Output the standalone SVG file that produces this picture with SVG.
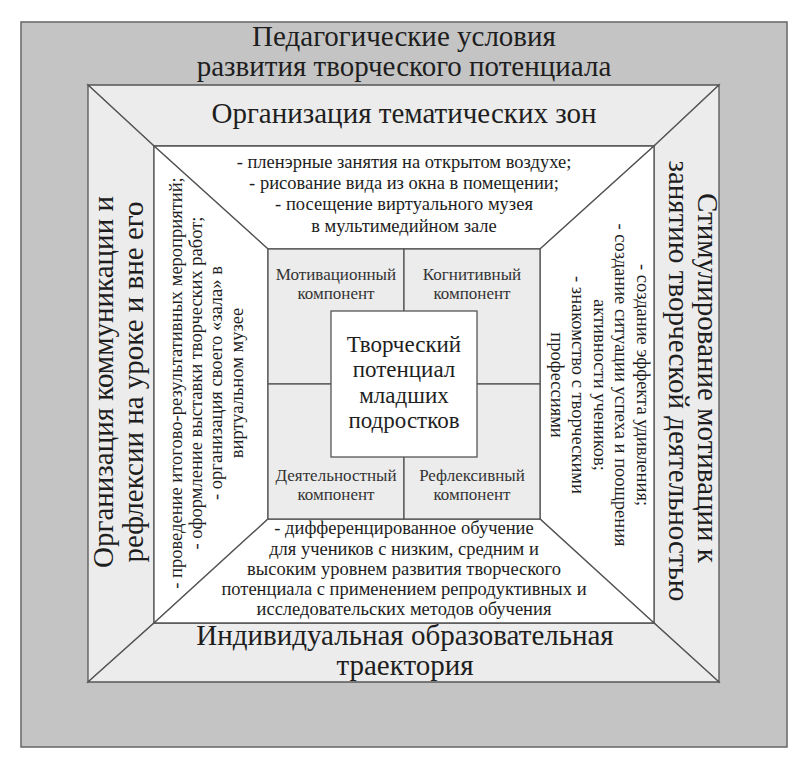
<svg xmlns="http://www.w3.org/2000/svg" width="796" height="761" viewBox="0 0 796 761">
<rect width="796" height="761" fill="#ffffff"/>
<g id="outer">
<rect x="21" y="22" width="766" height="725" fill="#c4c4c4" stroke="#666666" stroke-width="1.5"/>
<text font-family="Liberation Serif, Tinos, Times New Roman, serif" font-size="29" text-anchor="middle" fill="#1e1e1e" x="404" y="46">Педагогические условия</text>
<text font-family="Liberation Serif, Tinos, Times New Roman, serif" font-size="29" text-anchor="middle" fill="#1e1e1e" x="404" y="76">развития творческого потенциала</text>
</g>
<g id="band-top">
<polygon points="88,85 719,85 654,146 154,146" fill="#ececec" stroke="#555555" stroke-width="1.3"/>
<text font-family="Liberation Serif, Tinos, Times New Roman, serif" font-size="29" text-anchor="middle" fill="#1e1e1e" x="404" y="123">Организация тематических зон</text>
</g>
<g id="band-left">
<polygon points="88,85 154,146 154,623 88,682" fill="#ececec" stroke="#555555" stroke-width="1.3"/>
<text font-family="Liberation Serif, Tinos, Times New Roman, serif" font-size="29" text-anchor="middle" fill="#1e1e1e" transform="translate(113,382) rotate(-90)">Организация коммуникации и</text>
<text font-family="Liberation Serif, Tinos, Times New Roman, serif" font-size="29" text-anchor="middle" fill="#1e1e1e" transform="translate(143,382) rotate(-90)">рефлексии на уроке и вне его</text>
</g>
<g id="band-right">
<polygon points="719,85 719,682 654,623 654,146" fill="#ececec" stroke="#555555" stroke-width="1.3"/>
<text font-family="Liberation Serif, Tinos, Times New Roman, serif" font-size="29" text-anchor="middle" fill="#1e1e1e" transform="translate(698,378) rotate(90)">Стимулирование мотивации к</text>
<text font-family="Liberation Serif, Tinos, Times New Roman, serif" font-size="29" text-anchor="middle" fill="#1e1e1e" transform="translate(669,381) rotate(90)">занятию творческой деятельностью</text>
</g>
<g id="band-bottom">
<polygon points="88,682 154,623 654,623 719,682" fill="#ececec" stroke="#555555" stroke-width="1.3"/>
<text font-family="Liberation Serif, Tinos, Times New Roman, serif" font-size="29" text-anchor="middle" fill="#1e1e1e" x="405" y="645">Индивидуальная образовательная</text>
<text font-family="Liberation Serif, Tinos, Times New Roman, serif" font-size="29" text-anchor="middle" fill="#1e1e1e" x="405" y="675">траектория</text>
</g>
<g id="zone-top">
<polygon points="154,146 654,146 540,249 268,249" fill="#ffffff" stroke="#555555" stroke-width="1.3"/>
<text font-family="Liberation Serif, Tinos, Times New Roman, serif" font-size="18.5" text-anchor="middle" fill="#1e1e1e" x="404" y="168">- пленэрные занятия на открытом воздухе;</text>
<text font-family="Liberation Serif, Tinos, Times New Roman, serif" font-size="18.5" text-anchor="middle" fill="#1e1e1e" x="404" y="189">- рисование вида из окна в помещении;</text>
<text font-family="Liberation Serif, Tinos, Times New Roman, serif" font-size="18.5" text-anchor="middle" fill="#1e1e1e" x="404" y="210">- посещение виртуального музея</text>
<text font-family="Liberation Serif, Tinos, Times New Roman, serif" font-size="18.5" text-anchor="middle" fill="#1e1e1e" x="404" y="232">в мультимедийном зале</text>
</g>
<g id="zone-left">
<polygon points="154,146 268,249 268,519 154,623" fill="#ffffff" stroke="#555555" stroke-width="1.3"/>
<text font-family="Liberation Serif, Tinos, Times New Roman, serif" font-size="18.5" text-anchor="middle" fill="#1e1e1e" transform="translate(182,383) rotate(-90)">- проведение итогово-результативных мероприятий;</text>
<text font-family="Liberation Serif, Tinos, Times New Roman, serif" font-size="18.5" text-anchor="middle" fill="#1e1e1e" transform="translate(202,383) rotate(-90)">- оформление выставки творческих работ;</text>
<text font-family="Liberation Serif, Tinos, Times New Roman, serif" font-size="18.5" text-anchor="middle" fill="#1e1e1e" transform="translate(222,383) rotate(-90)">- организация своего «зала» в</text>
<text font-family="Liberation Serif, Tinos, Times New Roman, serif" font-size="18.5" text-anchor="middle" fill="#1e1e1e" transform="translate(243,383) rotate(-90)">виртуальном музее</text>
</g>
<g id="zone-right">
<polygon points="654,146 654,623 540,519 540,249" fill="#ffffff" stroke="#555555" stroke-width="1.3"/>
<text font-family="Liberation Serif, Tinos, Times New Roman, serif" font-size="18.5" text-anchor="middle" fill="#1e1e1e" transform="translate(637,385) rotate(90)">- создание эффекта удивления;</text>
<text font-family="Liberation Serif, Tinos, Times New Roman, serif" font-size="18.5" text-anchor="middle" fill="#1e1e1e" transform="translate(615,385) rotate(90)">- создание ситуации успеха и поощрения</text>
<text font-family="Liberation Serif, Tinos, Times New Roman, serif" font-size="18.5" text-anchor="middle" fill="#1e1e1e" transform="translate(594,385) rotate(90)">активности учеников;</text>
<text font-family="Liberation Serif, Tinos, Times New Roman, serif" font-size="18.5" text-anchor="middle" fill="#1e1e1e" transform="translate(572,385) rotate(90)">- знакомство с творческими</text>
<text font-family="Liberation Serif, Tinos, Times New Roman, serif" font-size="18.5" text-anchor="middle" fill="#1e1e1e" transform="translate(551,385) rotate(90)">профессиями</text>
</g>
<g id="zone-bottom">
<polygon points="154,623 268,519 540,519 654,623" fill="#ffffff" stroke="#555555" stroke-width="1.3"/>
<text font-family="Liberation Serif, Tinos, Times New Roman, serif" font-size="18.5" text-anchor="middle" fill="#1e1e1e" x="404" y="534">- дифференцированное обучение</text>
<text font-family="Liberation Serif, Tinos, Times New Roman, serif" font-size="18.5" text-anchor="middle" fill="#1e1e1e" x="404" y="555">для учеников с низким, средним и</text>
<text font-family="Liberation Serif, Tinos, Times New Roman, serif" font-size="18.5" text-anchor="middle" fill="#1e1e1e" x="404" y="575">высоким уровнем развития творческого</text>
<text font-family="Liberation Serif, Tinos, Times New Roman, serif" font-size="18.5" text-anchor="middle" fill="#1e1e1e" x="404" y="595">потенциала с применением репродуктивных и</text>
<text font-family="Liberation Serif, Tinos, Times New Roman, serif" font-size="18.5" text-anchor="middle" fill="#1e1e1e" x="404" y="615">исследовательских методов обучения</text>
</g>
<g id="comp-motivational">
<rect x="268" y="249" width="136" height="135" fill="#ececec" stroke="#555555" stroke-width="1.3"/>
<text font-family="Liberation Serif, Tinos, Times New Roman, serif" font-size="17" text-anchor="middle" fill="#333333" x="336" y="280">Мотивационный</text>
<text font-family="Liberation Serif, Tinos, Times New Roman, serif" font-size="17" text-anchor="middle" fill="#333333" x="336" y="299">компонент</text>
</g>
<g id="comp-cognitive">
<rect x="404" y="249" width="136" height="135" fill="#ececec" stroke="#555555" stroke-width="1.3"/>
<text font-family="Liberation Serif, Tinos, Times New Roman, serif" font-size="17" text-anchor="middle" fill="#333333" x="472" y="280">Когнитивный</text>
<text font-family="Liberation Serif, Tinos, Times New Roman, serif" font-size="17" text-anchor="middle" fill="#333333" x="472" y="299">компонент</text>
</g>
<g id="comp-activity">
<rect x="268" y="384" width="136" height="135" fill="#ececec" stroke="#555555" stroke-width="1.3"/>
<text font-family="Liberation Serif, Tinos, Times New Roman, serif" font-size="17" text-anchor="middle" fill="#333333" x="336" y="481">Деятельностный</text>
<text font-family="Liberation Serif, Tinos, Times New Roman, serif" font-size="17" text-anchor="middle" fill="#333333" x="336" y="500">компонент</text>
</g>
<g id="comp-reflexive">
<rect x="404" y="384" width="136" height="135" fill="#ececec" stroke="#555555" stroke-width="1.3"/>
<text font-family="Liberation Serif, Tinos, Times New Roman, serif" font-size="17" text-anchor="middle" fill="#333333" x="472" y="481">Рефлексивный</text>
<text font-family="Liberation Serif, Tinos, Times New Roman, serif" font-size="17" text-anchor="middle" fill="#333333" x="472" y="500">компонент</text>
</g>
<g id="core">
<rect x="331" y="311" width="146" height="146" fill="#ffffff" stroke="#555555" stroke-width="1.3"/>
<text font-family="Liberation Serif, Tinos, Times New Roman, serif" font-size="23" text-anchor="middle" fill="#1e1e1e" x="404" y="352">Творческий</text>
<text font-family="Liberation Serif, Tinos, Times New Roman, serif" font-size="23" text-anchor="middle" fill="#1e1e1e" x="404" y="377">потенциал</text>
<text font-family="Liberation Serif, Tinos, Times New Roman, serif" font-size="23" text-anchor="middle" fill="#1e1e1e" x="404" y="403">младших</text>
<text font-family="Liberation Serif, Tinos, Times New Roman, serif" font-size="23" text-anchor="middle" fill="#1e1e1e" x="404" y="428">подростков</text>
</g>
<g id="connectors"></g>
</svg>
